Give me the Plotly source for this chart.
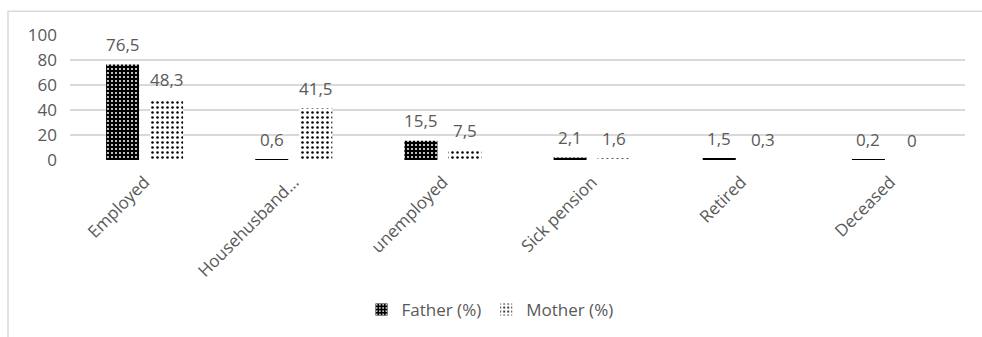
import plotly.graph_objects as go

categories = ["Employed", "Househusband…", "unemployed", "Sick pension", "Retired", "Deceased"]
father = [76.5, 0.6, 15.5, 2.1, 1.5, 0.2]
mother = [48.3, 41.5, 7.5, 1.6, 0.3, 0.0]
series_names = ["Father (%)", "Mother (%)"]
y_ticks = [0, 20, 40, 60, 80, 100]

GRAY = "#595959"
GRID = "#d9d9d9"
FONT = "Open Sans"
FS = 17

W, H = 982, 337
L, R, T, B = 70, 17, 35, 176
PW, PH = W - L - R, H - T - B


def px_to_paper_x(px):
    return (px - L) / PW


def px_to_paper_y(py):
    return (H - B - py) / PH


def fmt(v):
    s = f"{v:.1f}".replace(".", ",")
    return "0" if v == 0 else s


fig = go.Figure()
fig.add_trace(go.Bar(
    x=categories, y=father, name=series_names[0],
    marker=dict(
        color="black",
        line=dict(width=0),
        pattern=dict(shape=".", bgcolor="black", fgcolor="white",
                     size=4, solidity=0.2, fillmode="replace"),
    ),
))
fig.add_trace(go.Bar(
    x=categories, y=mother, name=series_names[1],
    marker=dict(
        color="white",
        line=dict(width=0),
        pattern=dict(shape=".", bgcolor="white", fgcolor="black",
                     size=5, solidity=0.2, fillmode="replace"),
    ),
))

# value labels above each bar
annotations = []
for vals, shift in ((father, -22), (mother, 22)):
    for cat, v in zip(categories, vals):
        annotations.append(dict(
            x=cat, y=v, xref="x", yref="y", text=fmt(v),
            showarrow=False, xshift=shift, yshift=20,
            yanchor="middle", xanchor="center",
            font=dict(family=FONT, size=FS, color=GRAY),
        ))

# outer chart frame
shapes = [dict(
    type="rect", xref="paper", yref="paper", layer="below",
    x0=px_to_paper_x(8), x1=px_to_paper_x(1000),
    y0=px_to_paper_y(400), y1=px_to_paper_y(11),
    line=dict(color=GRID, width=1.5), fillcolor="rgba(0,0,0,0)",
)]

fig.update_layout(
    width=W, height=H,
    margin=dict(l=L, r=R, t=T, b=B),
    paper_bgcolor="white", plot_bgcolor="white",
    barmode="group", bargap=0.41, bargroupgap=0.25,
    font=dict(family=FONT, size=FS, color=GRAY),
    showlegend=True,
    legend=dict(
        orientation="h", x=px_to_paper_x(490), xanchor="center",
        y=px_to_paper_y(310), yanchor="middle",
        font=dict(family=FONT, size=FS, color=GRAY),
        itemwidth=30, bgcolor="rgba(0,0,0,0)",
    ),
    annotations=annotations,
    shapes=shapes,
)
fig.update_xaxes(
    tickangle=-45, showgrid=False, showline=False, zeroline=False,
    ticks="", ticklabelstandoff=8,
    tickfont=dict(family=FONT, size=FS, color=GRAY),
)
fig.update_yaxes(
    range=[0, 100], tickvals=y_ticks, showgrid=True, gridcolor=GRID,
    gridwidth=1.5, zeroline=False, showline=False, ticks="",
    ticklabelstandoff=12,
    tickfont=dict(family=FONT, size=FS, color=GRAY),
)

fig.write_html("out.html")
